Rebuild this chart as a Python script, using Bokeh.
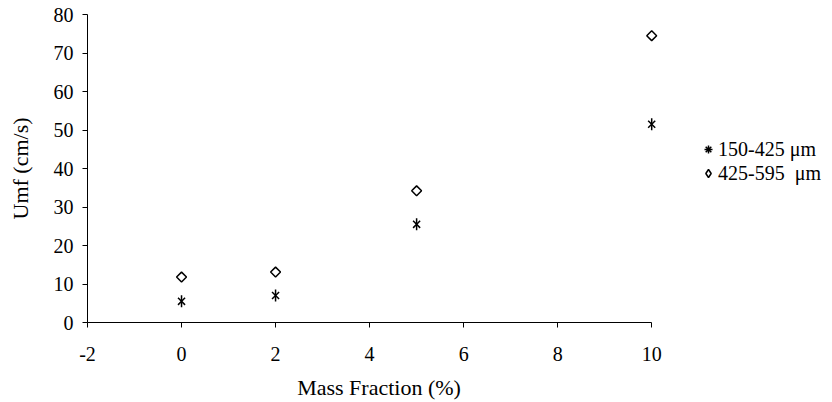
import math
import numpy as np
from bokeh.plotting import figure
from bokeh.models import ColumnDataSource, Legend, LegendItem, FixedTicker
from bokeh.embed import file_html
from bokeh.resources import INLINE

mass_fraction = [0, 2, 5, 10]
umf_150_425 = [5.5, 7.0, 25.5, 51.5]
umf_425_595 = [11.8, 13.1, 34.2, 74.5]
x_ticks = [-2, 0, 2, 4, 6, 8, 10]
y_ticks = [0, 10, 20, 30, 40, 50, 60, 70, 80]
series_labels = ["150-425 \u03bcm", "425-595  \u03bcm"]

FONT = "Liberation Serif"

# x range runs slightly past the last tick so the points at x=10 are not clipped
p = figure(frame_width=583, frame_height=308,
           x_range=(-2, 10.4), y_range=(0, 80),
           output_backend="svg", toolbar_location=None,
           min_border_left=87, min_border_right=162,
           min_border_top=14, min_border_bottom=80)
p.outline_line_color = None
p.xgrid.visible = False
p.ygrid.visible = False
p.background_fill_color = "white"
p.border_fill_color = "white"

for ax in (p.xaxis[0], p.yaxis[0]):
    ax.axis_line_color = "black"
    ax.major_tick_line_color = "black"
    ax.minor_tick_line_color = None
    ax.major_tick_out = 5
    ax.major_tick_in = 0
    ax.major_label_text_font = FONT
    ax.major_label_text_font_size = "20px"
    ax.major_label_text_color = "black"
    ax.axis_label_text_font = FONT
    ax.axis_label_text_font_size = "22px"
    ax.axis_label_text_font_style = "normal"
    ax.axis_label_text_color = "black"

p.xaxis.ticker = FixedTicker(ticks=x_ticks)
p.yaxis.ticker = FixedTicker(ticks=y_ticks)
p.xaxis.bounds = (x_ticks[0], x_ticks[-1])
p.xaxis.major_label_overrides = {t: str(t) for t in x_ticks}
p.yaxis.major_label_overrides = {t: str(t) for t in y_ticks}
p.xaxis.axis_label = "Mass Fraction (%)"
p.yaxis.axis_label = "Umf (cm/s)"
p.xaxis.major_label_standoff = 19
p.xaxis.axis_label_standoff = 11
p.yaxis.major_label_standoff = 9
p.yaxis.axis_label_standoff = 18

src1 = ColumnDataSource(dict(x=mass_fraction, y=umf_150_425))
src2 = ColumnDataSource(dict(x=mass_fraction, y=umf_425_595))

r1a = p.scatter("x", "y", source=src1, marker="x", size=10,
                line_color="black", line_width=1.5)
r1b = p.scatter("x", "y", source=src1, marker="dash", size=12, angle=math.pi / 2,
                line_color="black", line_width=1.5)
r2 = p.scatter("x", "y", source=src2, marker="square", size=7, angle=math.pi / 4,
               line_color="black", line_width=1.5, fill_color=None)

# legend-only renderers (a NaN placeholder is never drawn in the plot),
# because legend glyphs ignore the marker angle
blank = ColumnDataSource(dict(x=np.array([np.nan]), y=np.array([np.nan])))
lg1 = p.scatter("x", "y", source=blank, marker="asterisk",
                line_color="black", line_width=1.5)
lg2 = p.scatter("x", "y", source=blank, marker="diamond",
                line_color="black", line_width=1.5, fill_color=None)

legend = Legend(items=[LegendItem(label=series_labels[0], renderers=[lg1]),
                       LegendItem(label=series_labels[1], renderers=[lg2])],
                location=(28, 137))
legend.border_line_color = None
legend.background_fill_alpha = 0
legend.padding = 0
legend.margin = 0
legend.spacing = 0
legend.glyph_width = 20
legend.glyph_height = 24
legend.label_height = 24
legend.label_standoff = -2
legend.label_text_font = FONT
legend.label_text_font_size = "20px"
legend.label_text_color = "black"
p.add_layout(legend, "right")

open("out.html", "w").write(file_html(p, INLINE))
